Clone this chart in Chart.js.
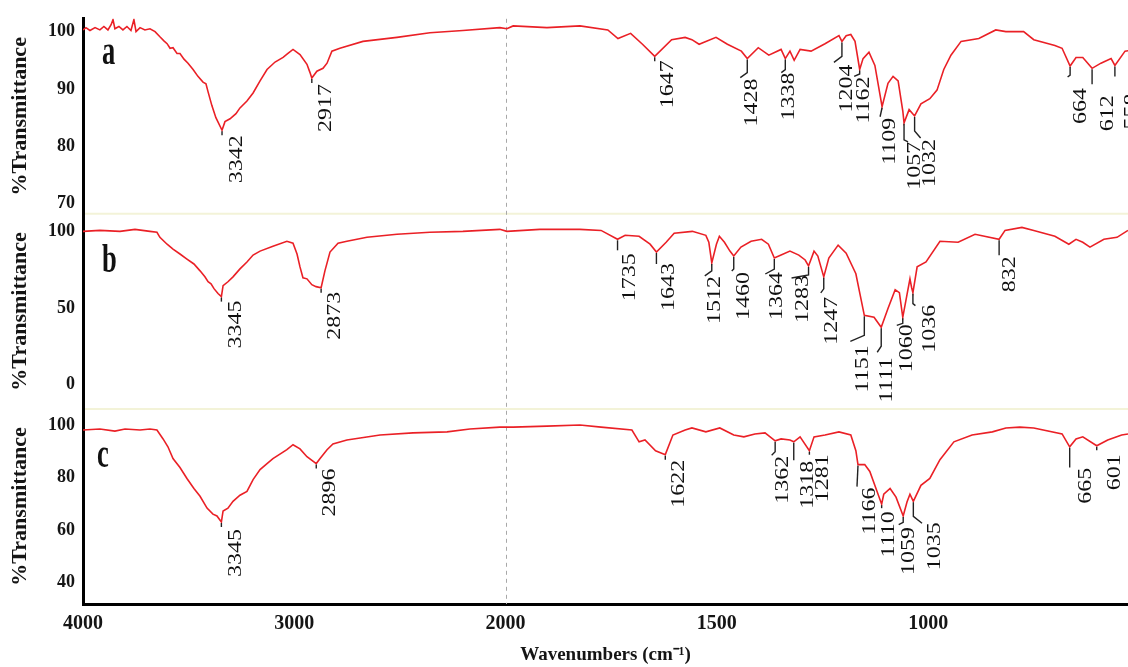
<!DOCTYPE html>
<html>
<head>
<meta charset="utf-8">
<style>
html,body{margin:0;padding:0;background:#fff;}
canvas{display:block;}
</style>
<script src="https://cdn.jsdelivr.net/npm/chart.js@4.4.1/dist/chart.umd.min.js"></script>
</head>
<body>
<canvas id="c" width="1128" height="667" style="width:1128px;height:667px"></canvas>
<script>
// ---------------- DATA ----------------
const wavenumbersA = [4000,3986,3967,3943,3920,3901,3882,3867,3858,3849,
  3830,3811,3792,3773,3759,3749,3730,3707,3683,3659,
  3636,3617,3602,3588,3574,3555,3541,3522,3503,3479,
  3456,3432,3418,3408,3390,3371,3342,3328,3304,3276,
  3257,3224,3195,3162,3129,3091,3053,3030,3006,2973,
  2940,2926,2917,2893,2864,2845,2822,2784,2675,2514,
  2358,2202,2027,1997,1982,1902,1824,1758,1734,1704,
  1676,1647,1607,1575,1559,1542,1502,1475,1442,1428,
  1402,1377,1348,1338,1327,1317,1303,1277,1244,1211,
  1204,1194,1183,1173,1162,1154,1140,1126,1109,1095,
  1083,1071,1060,1057,1045,1032,1017,996,979,963,
  946,922,880,840,816,774,750,700,683,664,
  650,634,612,591,567,558,534,522];
const transmittanceA = [100.3,100.7,100.2,100.7,100.3,100.9,100.3,101.2,102.1,100.5,
  100.9,100.3,100.9,100.2,102.1,100.0,100.7,100.3,100.5,100.0,
  99.1,98.4,97.9,97.1,97.2,96.2,96.2,95.2,94.5,93.4,
  92.2,91.2,90.9,89.5,87.1,85.0,82.8,84.3,84.8,85.7,
  86.7,87.9,89.3,91.4,93.4,94.7,95.5,96.2,96.9,96.0,
  94.3,92.9,91.9,93.1,93.6,94.5,96.6,97.1,98.3,99.0,
  99.8,100.2,100.7,100.5,101.0,100.7,101.0,100.3,98.8,99.7,
  97.8,95.7,98.6,99.0,98.6,97.8,99.0,97.8,96.6,95.3,
  97.2,95.9,96.9,95.3,96.6,95.0,96.9,96.6,97.9,99.3,
  98.3,99.3,99.5,98.3,93.4,95.3,96.4,94.1,86.9,91.0,
  92.2,91.4,86.2,84.1,86.4,85.3,87.4,88.3,89.8,93.4,
  95.9,98.3,98.8,100.3,100.0,100.0,98.6,97.6,97.1,94.0,
  95.5,95.5,93.6,94.5,95.3,94.1,96.6,96.7];

const wavenumbersB = [4000,3920,3825,3754,3683,3650,3636,3602,3574,3541,
  3508,3475,3446,3423,3408,3394,3380,3361,3345,3337,
  3314,3290,3257,3224,3195,3162,3101,3035,3006,2987,
  2973,2959,2940,2917,2897,2873,2855,2831,2793,2751,
  2656,2514,2358,2202,2027,1997,1919,1824,1774,1735,
  1717,1684,1658,1643,1620,1601,1558,1526,1519,1512,
  1501,1494,1482,1469,1460,1443,1419,1394,1378,1364,
  1348,1327,1306,1291,1283,1270,1261,1247,1235,1213,
  1194,1171,1161,1151,1128,1111,1095,1078,1068,1060,
  1050,1043,1039,1036,1026,1005,972,929,889,832,
  818,778,750,700,667,650,634,617,584,553,
  527];
const transmittanceB = [100.0,100.6,100.0,101.3,100.0,99.4,96.1,91.6,88.4,85.2,
  81.9,78.7,74.2,70.3,67.1,65.8,62.6,59.4,57.4,64.5,
  67.1,70.3,75.5,80.0,84.5,87.1,90.3,93.5,92.3,85.2,
  76.8,69.7,69.0,65.2,63.9,63.2,74.2,86.5,92.3,93.5,
  96.1,98.1,99.4,100.0,101.3,100.0,101.3,101.3,100.6,94.8,
  97.4,96.8,91.6,86.5,92.9,98.7,100.0,97.4,92.9,79.4,
  91.6,96.8,92.9,87.1,83.9,89.7,93.5,94.8,91.6,82.6,
  84.5,87.1,84.5,81.3,77.4,87.1,83.9,70.3,82.6,91.0,
  85.8,72.3,58.7,45.2,43.9,37.4,49.7,61.9,60.0,43.9,
  58.7,69.0,63.2,60.0,76.8,80.0,93.5,92.9,98.1,94.8,
  100.6,102.6,100.6,96.8,91.6,94.8,92.9,89.7,94.8,96.1,
  100.6];

const wavenumbersC = [4000,3920,3849,3801,3730,3683,3650,3621,3598,3574,
  3541,3508,3475,3446,3413,3385,3366,3345,3337,3314,
  3290,3257,3224,3195,3162,3129,3101,3035,3006,2973,
  2940,2896,2878,2845,2817,2751,2594,2438,2277,2169,
  2027,1982,1902,1824,1774,1701,1684,1670,1645,1622,
  1604,1575,1559,1526,1493,1460,1436,1410,1386,1362,
  1348,1327,1318,1303,1281,1270,1244,1211,1183,1171,
  1166,1150,1138,1110,1105,1090,1076,1059,1050,1043,
  1035,1017,996,972,939,896,848,816,783,750,
  683,665,650,634,601,575,542,527];
const transmittanceC = [98.1,98.5,97.7,98.5,98.1,98.5,98.1,94.7,91.7,87.2,
  83.8,79.6,75.8,72.8,68.3,66.0,65.3,63.0,67.2,68.3,
  70.9,73.2,74.7,79.2,83.0,85.3,87.2,90.6,92.5,90.9,
  87.9,85.3,87.2,90.6,92.8,94.3,96.2,97.0,97.4,98.5,
  99.2,99.2,99.6,100.0,99.2,98.1,93.6,94.3,90.2,88.7,
  96.2,98.1,98.9,97.4,98.9,96.2,95.5,96.6,97.0,94.0,
  94.7,94.3,93.6,95.5,90.2,95.5,96.2,97.4,96.2,90.2,
  84.9,84.9,82.3,69.8,73.6,75.8,72.5,65.3,70.6,73.6,
  70.9,77.0,79.6,86.8,93.6,96.2,97.4,98.9,99.2,98.9,
  96.6,91.7,94.7,95.5,92.1,94.3,96.2,96.6];

const peaksA = [3342,2917,1647,1428,1338,1204,1162,1109,1057,1032,664,612,558];
const peaksB = [3345,2873,1735,1643,1512,1460,1364,1283,1247,1151,1111,1060,1036,832];
const peaksC = [3345,2896,1622,1362,1318,1281,1166,1110,1059,1035,665,601];

const xTickLabels = [4000,3000,2000,1500,1000];
const yTicksA = [70,80,90,100];
const yTicksB = [0,50,100];
const yTicksC = [40,60,80,100];
const panelLetters = ['a','b','c'];
const yTitle = '%Transmittance';
const xTitle = 'Wavenumbers (cm\u207B\u00B9)';

// ---------------- STYLE / LAYOUT ----------------
// label placement: [text dx, text dy, leader path (relative pairs)]
const labelLayoutA = [
  [15,5,[0,0,0,4]],[14,6,[0,0,0,4]],[13,4,[0,0,0,4]],
  [5,20,[0,0,0,13,-7,18]],[3.4,14,[0,0,0,10,-4,13]],[5,23,[0,0,0,14,-8,20]],
  [4.5,7,[0,0,0,3.5,-5.5,6]],[8,11,[0,0,-2,9]],[10.6,19,[0,0,0,16,4,18]],
  [15,23,[0,0,0,14,6,21]],[11,22,[0,0,0,8,-2.5,10]],[16,27,[0,0,0,15]],[17,28,[0,0,0,10]]
];
const labelLayoutB = [
  [14,4,[0,0,0,4]],[13.5,4,[0,0,0,4]],[12.5,14,[0,0,0,10]],[12.5,11,[0,0,0,11]],
  [3,13,[0,0,0,7,-7,12]],[10,16,[0,0,0,12,-2,14]],[3,14,[0,0,0,10,-9,15]],
  [-6,9,[0,0,0,8,-17,11]],[8,20,[0,0,0,11,-3,15]],[-1,30,[0,0,0,19,-14,25]],
  [6,30,[0,0,0,18,-4,24]],[4,7,[0,0,0,5,-6,7]],[17,12,[0,0,0,10,2.5,12]],[11,17,[0,0,0,15]]
];
const labelLayoutC = [
  [14,7,[0,0,0,4]],[14,5,[0,0,0,4]],[14,5,[0,0,0,4]],[7.5,15,[0,0,0,10,-3.5,13.4]],
  [14,19,[0,0,0,17.5]],[13,3.5,[0,0,0,3]],[12,23,[0,0,-1,21]],[7,7,[0,0,0,3]],
  [6,11,[0,0,0,5.3,-4.5,7.7]],[21.5,21,[0,0,0,14,8.7,21]],[16.6,21,[0,0,0,19.7]],[17.7,8.5,[0,0,0,3.5]]
];

const RED = 'rgb(234,32,38)';
const SERIF = '"Liberation Serif", "Times New Roman", serif';

// the wavenumber axis is drawn at double scale below 2000 cm-1
function toAxis(w){ return w >= 2000 ? w : 2*w - 2000; }
function fromAxis(u){ return u >= 2000 ? u : (u + 2000)/2; }
function series(ws, ts){ return ws.map((w,i)=>({x: toAxis(w), y: ts[i]})); }

function yAxis(ticksArr, min, max, weight){
  return {
    type:'linear', position:'left', stack:'ftir', stackWeight:1, weight: weight,
    min: min, max: max,
    afterBuildTicks: s => { s.ticks = ticksArr.map(v => ({value:v})); },
    afterFit: s => { s.width = 83; },
    grid:{display:false, drawTicks:false},
    border:{display:true, color:'#000', width:3},
    ticks:{color:'#151515', font:{family:SERIF, size:18, weight:'bold'}, padding:8},
    title:{display:true, text:yTitle, color:'#151515',
      font:{family:SERIF, size:22, weight:'bold'}, padding:{top:7, bottom:0}}
  };
}

const panels = [
  {ws:wavenumbersA, ts:transmittanceA, peaks:peaksA, layout:labelLayoutA, y:'ya'},
  {ws:wavenumbersB, ts:transmittanceB, peaks:peaksB, layout:labelLayoutB, y:'yb'},
  {ws:wavenumbersC, ts:transmittanceC, peaks:peaksC, layout:labelLayoutC, y:'yc'}
];

const decor = {
  id:'ftirDecor',
  beforeDatasetsDraw(chart){
    const ctx = chart.ctx, ca = chart.chartArea, xs = chart.scales.x;
    ctx.save();
    // faint panel seams
    ctx.strokeStyle = 'rgba(238,238,200,0.7)';
    ctx.lineWidth = 2;
    ['yb','yc'].forEach(id => {
      const t = chart.scales[id].top;
      ctx.beginPath(); ctx.moveTo(ca.left+2, t); ctx.lineTo(ca.right, t); ctx.stroke();
    });
    // dashed line at the 2000 cm-1 scale change
    const px = Math.round(xs.getPixelForValue(toAxis(2000))) + 0.5;
    ctx.strokeStyle = '#a8a8a8';
    ctx.lineWidth = 1;
    ctx.setLineDash([4,4]);
    ctx.beginPath(); ctx.moveTo(px, ca.top); ctx.lineTo(px, ca.bottom); ctx.stroke();
    ctx.restore();
  },
  afterDatasetsDraw(chart){
    const ctx = chart.ctx, ca = chart.chartArea, xs = chart.scales.x;
    ctx.save();
    ctx.strokeStyle = '#222';
    ctx.fillStyle = '#111';
    ctx.lineWidth = 1.4;
    ctx.font = '24px ' + SERIF;
    ctx.textAlign = 'right';
    ctx.textBaseline = 'middle';
    panels.forEach(p => {
      const ys = chart.scales[p.y];
      p.peaks.forEach((pk, i) => {
        let k = 0, best = Infinity;
        p.ws.forEach((w, j) => { const d = Math.abs(w - pk); if (d < best){ best = d; k = j; } });
        const px = xs.getPixelForValue(toAxis(p.ws[k]));
        const py = ys.getPixelForValue(p.ts[k]);
        const [dx, dy, path] = p.layout[i];
        ctx.beginPath();
        for (let j = 0; j < path.length; j += 2){
          const X = px + path[j], Y = py + 1 + path[j+1];
          if (j === 0) ctx.moveTo(X, Y); else ctx.lineTo(X, Y);
        }
        ctx.stroke();
        ctx.save();
        ctx.translate(px + dx, py + dy);
        ctx.rotate(-Math.PI/2);
        ctx.scale(1, 0.82);
        ctx.fillText(String(pk), 0, 0);
        ctx.restore();
      });
    });
    // panel letters
    ctx.textAlign = 'left';
    ctx.textBaseline = 'alphabetic';
    ctx.font = 'bold 39px ' + SERIF;
    const letterPos = [[19, 45, 'ya'], [19, 58, 'yb'], [14, 58, 'yc']];
    letterPos.forEach((lp, i) => {
      ctx.save();
      ctx.translate(ca.left + lp[0], chart.scales[lp[2]].top + lp[1]);
      ctx.scale(0.68, 1);
      ctx.fillText(panelLetters[i], 0, 0);
      ctx.restore();
    });
    ctx.restore();
  }
};

const lineStyle = {borderColor:RED, borderWidth:1.6, pointRadius:0, tension:0, fill:false};

new Chart(document.getElementById('c'), {
  type:'line',
  data:{
    datasets:[
      Object.assign({label:'a', data:series(wavenumbersA, transmittanceA), yAxisID:'ya'}, lineStyle),
      Object.assign({label:'b', data:series(wavenumbersB, transmittanceB), yAxisID:'yb'}, lineStyle),
      Object.assign({label:'c', data:series(wavenumbersC, transmittanceC), yAxisID:'yc'}, lineStyle)
    ]
  },
  options:{
    responsive:false,
    animation:false,
    devicePixelRatio:1,
    parsing:true,
    layout:{padding:{top:12, right:0, left:0, bottom:0}},
    plugins:{legend:{display:false}, tooltip:{enabled:false}},
    scales:{
      x:{
        type:'linear', reverse:true, min:-946, max:4000,
        afterBuildTicks: s => { s.ticks = xTickLabels.map(w => ({value: toAxis(w)})); },
        afterFit: s => { s.height = 63; },
        grid:{display:false, drawTicks:false},
        border:{display:true, color:'#000', width:3},
        ticks:{callback: v => String(fromAxis(v)), autoSkip:false, maxRotation:0,
          color:'#151515', font:{family:SERIF, size:20, weight:'bold'}, padding:8},
        title:{display:true, text:xTitle, color:'#151515',
          font:{family:SERIF, size:19, weight:'bold'}, padding:{top:0, bottom:1}}
      },
      ya: yAxis(yTicksA, 68.22, 102.24, 3),
      yb: yAxis(yTicksB, -15.9, 111.4, 2),
      yc: yAxis(yTicksC, 31.7, 106.15, 1)
    }
  },
  plugins:[decor]
});
</script>
</body>
</html>
